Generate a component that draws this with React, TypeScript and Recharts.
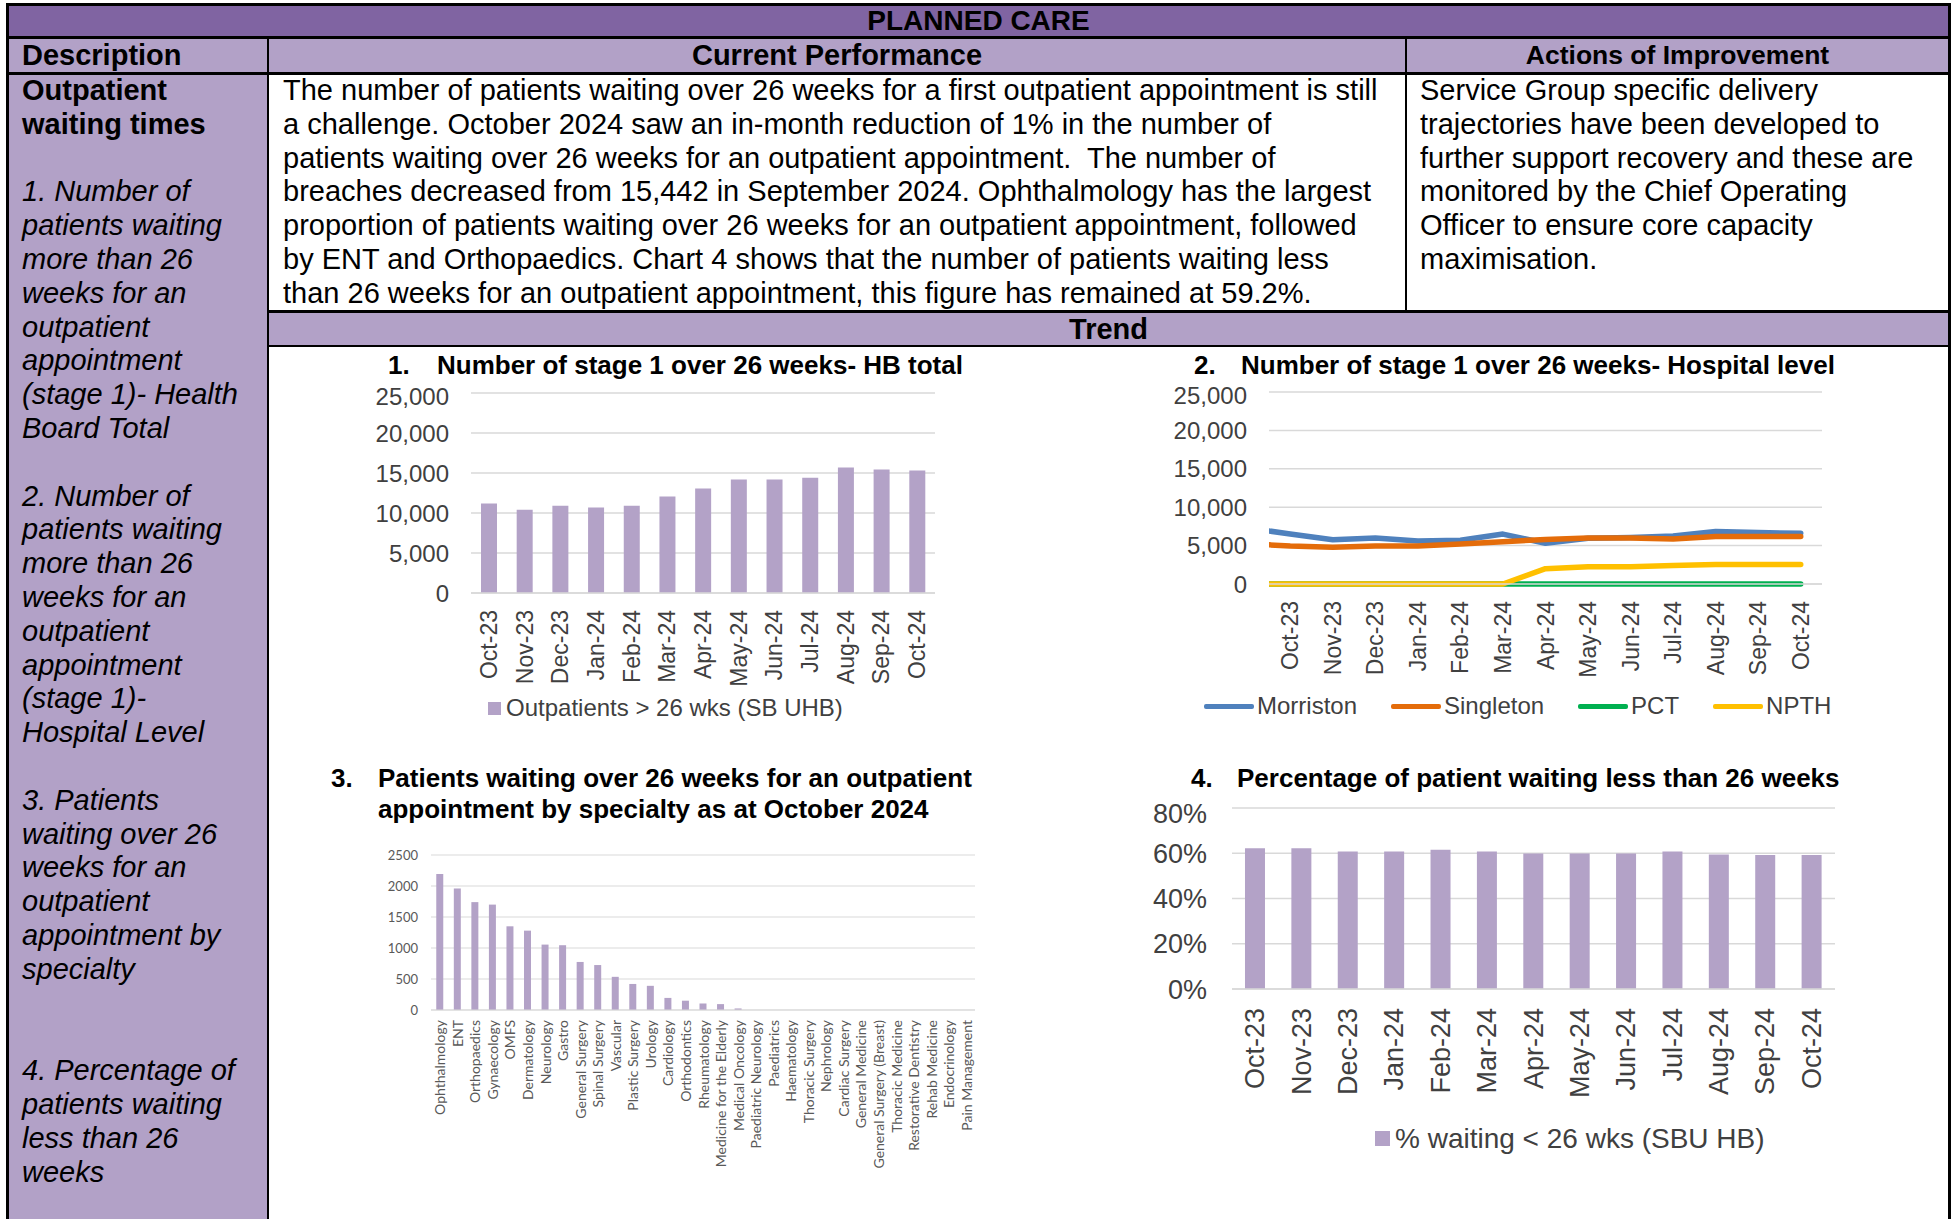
import React from 'react';
import { BarChart, Bar, LineChart, Line, XAxis, YAxis, CartesianGrid } from 'recharts';

const FONT = '"Liberation Sans", Arial, Helvetica, sans-serif';
const FONT_SPEC = 'Lato, "Liberation Sans", sans-serif';

const PURPLE_DARK = '#8064a2';
const PURPLE_LIGHT = '#b2a1c7';
const BAR = '#b3a2c7';
const GRID = '#d9d9d9';
const TICK = '#404040';

// 1. HB total
const MONTHS = ['Oct-23', 'Nov-23', 'Dec-23', 'Jan-24', 'Feb-24', 'Mar-24', 'Apr-24', 'May-24', 'Jun-24', 'Jul-24', 'Aug-24', 'Sep-24', 'Oct-24'];
const HB_TOTAL = [11200, 10400, 10900, 10700, 10900, 12050, 13050, 14200, 14200, 14400, 15700, 15442, 15300];
const HB_LEGEND = 'Outpatients > 26 wks (SB UHB)';
const HB_TICKS = [0, 5000, 10000, 15000, 20000, 25000];

// 2. Hospital level (first value is the month before the visible range, cut off at the left edge)
const HOSP_MONTHS = ['Sep-23', ...MONTHS];
const MORRISTON = [7300, 6500, 5750, 6000, 5600, 5700, 6500, 5300, 5950, 6050, 6250, 6850, 6700, 6600];
const SINGLETON = [5250, 4950, 4800, 4950, 4950, 5200, 5500, 5800, 6000, 6000, 5850, 6200, 6200, 6200];
const PCT = [0, 0, 0, 0, 0, 0, 0, 0, 0, 0, 0, 0, 0, 0];
const NPTH = [0, 0, 0, 0, 0, 0, 0, 2000, 2250, 2250, 2400, 2550, 2550, 2550];
const HOSPITALS = [
  { name: 'Morriston', color: '#4f81bd', values: MORRISTON },
  { name: 'Singleton', color: '#e46c0a', values: SINGLETON },
  { name: 'PCT', color: '#00b050', values: PCT },
  { name: 'NPTH', color: '#ffc000', values: NPTH },
];

// 3. By specialty
const SPECIALTIES = [
  'Ophthalmology', 'ENT', 'Orthopaedics', 'Gynaecology', 'OMFS', 'Dermatology', 'Neurology', 'Gastro',
  'General Surgery', 'Spinal Surgery', 'Vascular', 'Plastic Surgery', 'Urology', 'Cardiology', 'Orthodontics',
  'Rheumatology', 'Medicine for the Elderly', 'Medical Oncology', 'Paediatric Neurology', 'Paediatrics',
  'Haematology', 'Thoracic Surgery', 'Nephrology', 'Cardiac Surgery', 'General Medicine',
  'General Surgery (Breast)', 'Thoracic Medicine', 'Restorative Dentistry', 'Rehab Medicine',
  'Endocrinology', 'Pain Management',
];
const SPECIALTY_WAITS = [2195, 1960, 1740, 1700, 1350, 1280, 1055, 1045, 775, 725, 535, 420, 390, 195, 150, 105, 95, 25, 0, 0, 0, 0, 0, 0, 0, 0, 0, 0, 0, 0, 0];
const SPEC_TICKS = [0, 500, 1000, 1500, 2000, 2500];

// 4. Percentage under 26 weeks
const PCT_UNDER_26 = [62.2, 62.2, 60.8, 60.8, 61.6, 60.8, 59.9, 59.9, 59.9, 60.8, 59.4, 59.2, 59.2];
const PCT_LEGEND = '% waiting < 26 wks (SBU HB)';
const PCT_TICKS = [0, 20, 40, 60, 80];

const hbData = MONTHS.map((m, i) => ({ month: m, value: HB_TOTAL[i] }));
const hospData = HOSP_MONTHS.map((m, i) => {
  const row: any = { idx: i - 1, month: m };
  HOSPITALS.forEach(h => { row[h.name] = h.values[i]; });
  return row;
});
const specData = SPECIALTIES.map((s, i) => ({ name: s, value: SPECIALTY_WAITS[i] }));
const pctData = MONTHS.map((m, i) => ({ month: m, value: PCT_UNDER_26[i] }));

const DESCRIPTION = [
  'Outpatient', 'waiting times', '',
  '1. Number of', 'patients waiting', 'more than 26', 'weeks for an', 'outpatient', 'appointment', '(stage 1)- Health', 'Board Total', '',
  '2. Number of', 'patients waiting', 'more than 26', 'weeks for an', 'outpatient', 'appointment', '(stage 1)-', 'Hospital Level', '',
  '3. Patients', 'waiting over 26', 'weeks for an', 'outpatient', 'appointment by', 'specialty', '', '',
  '4. Percentage of', 'patients waiting', 'less than 26', 'weeks',
];
const PERFORMANCE = [
  'The number of patients waiting over 26 weeks for a first outpatient appointment is still',
  'a challenge. October 2024 saw an in-month reduction of 1% in the number of',
  'patients waiting over 26 weeks for an outpatient appointment.  The number of',
  'breaches decreased from 15,442 in September 2024. Ophthalmology has the largest',
  'proportion of patients waiting over 26 weeks for an outpatient appointment, followed',
  'by ENT and Orthopaedics. Chart 4 shows that the number of patients waiting less',
  'than 26 weeks for an outpatient appointment, this figure has remained at 59.2%.',
];
const ACTIONS = [
  'Service Group specific delivery',
  'trajectories have been developed to',
  'further support recovery and these are',
  'monitored by the Chief Operating',
  'Officer to ensure core capacity',
  'maximisation.',
];

const LINE_H = 33.8;

const Box = ({ l, t, w, h, bg }: { l: number; t: number; w: number; h: number; bg: string }) => (
  <div style={{ position: 'absolute', left: l, top: t, width: w, height: h, background: bg }} />
);

const rotTick = (fontSize: number, gap: number, fill: string, family: string, labels?: string[]) =>
  (props: any) => {
    const { x, y, payload } = props;
    const ty = y + gap;
    const label = labels ? labels[payload.value + 1] : payload.value;
    return (
      <text x={x} y={ty} transform={`rotate(-90 ${x} ${ty})`} textAnchor="end" dominantBaseline="central"
        fontSize={fontSize} fill={fill} fontFamily={family}>{label}</text>
    );
  };

const ChartTitle = ({ num, lines, numX, textX, top }: { num: string; lines: string[]; numX: number; textX: number; top: number }) => (
  <>
    <div style={{ position: 'absolute', left: numX, top, lineHeight: '31px', fontSize: 26, fontWeight: 'bold', whiteSpace: 'nowrap' }}>{num}</div>
    {lines.map((ln, i) => (
      <div key={i} style={{ position: 'absolute', left: textX, top: top + i * 31, lineHeight: '31px', fontSize: 26, fontWeight: 'bold', whiteSpace: 'nowrap' }}>{ln}</div>
    ))}
  </>
);

const fmtThousands = (v: number) => v.toLocaleString('en-US');

export default function App() {
  return (
    <div style={{ position: 'absolute', left: 0, top: 0, width: 1955, height: 1219, background: '#fff', overflow: 'hidden', fontFamily: FONT, color: '#000' }}>
      {/* cell fills */}
      <Box l={9} t={6} w={1939} h={30} bg={PURPLE_DARK} />
      <Box l={9} t={39} w={1939} h={33} bg={PURPLE_LIGHT} />
      <Box l={9} t={74} w={258} h={1145} bg={PURPLE_LIGHT} />
      <Box l={269} t={313} w={1679} h={32} bg={PURPLE_LIGHT} />
      {/* borders */}
      <Box l={6} t={3} w={1945} h={3} bg="#000" />
      <Box l={6} t={3} w={3} h={1216} bg="#000" />
      <Box l={1948} t={3} w={3} h={1216} bg="#000" />
      <Box l={6} t={36} w={1945} h={3} bg="#000" />
      <Box l={6} t={72} w={1945} h={2.5} bg="#000" />
      <Box l={267} t={39} w={2} h={1180} bg="#000" />
      <Box l={1405} t={39} w={2} h={272} bg="#000" />
      <Box l={267} t={310} w={1684} h={3} bg="#000" />
      <Box l={267} t={345} w={1684} h={2} bg="#000" />

      {/* headers */}
      <div style={{ position: 'absolute', left: 6, top: 6, width: 1945, lineHeight: '30px', textAlign: 'center', fontSize: 28, fontWeight: 'bold' }}>PLANNED CARE</div>
      <div style={{ position: 'absolute', left: 22, top: 39, lineHeight: '33px', fontSize: 29, fontWeight: 'bold' }}>Description</div>
      <div style={{ position: 'absolute', left: 269, top: 39, width: 1136, lineHeight: '33px', textAlign: 'center', fontSize: 29, fontWeight: 'bold' }}>Current Performance</div>
      <div style={{ position: 'absolute', left: 1407, top: 39, width: 541, lineHeight: '33px', textAlign: 'center', fontSize: 26.5, fontWeight: 'bold' }}>Actions of Improvement</div>
      <div style={{ position: 'absolute', left: 269, top: 313, width: 1679, lineHeight: '32px', textAlign: 'center', fontSize: 29, fontWeight: 'bold' }}>Trend</div>

      {/* text columns */}
      <div style={{ position: 'absolute', left: 22, top: 74, fontSize: 29, lineHeight: `${LINE_H}px` }}>
        {DESCRIPTION.map((ln, i) => (
          <div key={i} style={{ height: LINE_H, whiteSpace: 'pre', fontWeight: i < 2 ? 'bold' : 'normal', fontStyle: i < 2 ? 'normal' : 'italic' }}>{ln}</div>
        ))}
      </div>
      <div style={{ position: 'absolute', left: 283, top: 74, fontSize: 29, lineHeight: `${LINE_H}px` }}>
        {PERFORMANCE.map((ln, i) => <div key={i} style={{ height: LINE_H, whiteSpace: 'pre' }}>{ln}</div>)}
      </div>
      <div style={{ position: 'absolute', left: 1420, top: 74, fontSize: 29, lineHeight: `${LINE_H}px` }}>
        {ACTIONS.map((ln, i) => <div key={i} style={{ height: LINE_H, whiteSpace: 'pre' }}>{ln}</div>)}
      </div>

      {/* Chart 1 */}
      <ChartTitle num="1." lines={['Number of stage 1 over 26 weeks- HB total']} numX={388} textX={437} top={349.5} />
      <div style={{ position: 'absolute', left: 330, top: 383 }}>
        <BarChart width={630} height={310} data={hbData} margin={{ top: 10, right: 25, left: 0, bottom: 0 }} barCategoryGap="28%">
          <CartesianGrid vertical={false} stroke={GRID} strokeWidth={1.5} />
          <XAxis dataKey="month" interval={0} height={100} tickLine={false} tickSize={0} tickMargin={0}
            axisLine={{ stroke: GRID, strokeWidth: 1.5 }} tick={rotTick(23, 17, TICK, FONT)} />
          <YAxis width={141} domain={[0, 25000]} ticks={HB_TICKS} tickFormatter={fmtThousands} axisLine={false}
            tickLine={false} tickSize={0} tickMargin={22} tick={{ fontSize: 24, fill: TICK, fontFamily: FONT }} />
          <Bar dataKey="value" fill={BAR} isAnimationActive={false} />
        </BarChart>
      </div>
      <div style={{ position: 'absolute', left: 488, top: 693, height: 30, display: 'flex', alignItems: 'center', fontSize: 24, color: TICK, whiteSpace: 'nowrap' }}>
        <span style={{ width: 13, height: 13, background: BAR, marginRight: 5 }} />
        <span>{HB_LEGEND}</span>
      </div>

      {/* Chart 2 */}
      <ChartTitle num="2." lines={['Number of stage 1 over 26 weeks- Hospital level']} numX={1194} textX={1241} top={349.5} />
      <div style={{ position: 'absolute', left: 1160, top: 382 }}>
        <LineChart width={680} height={302} data={hospData} margin={{ top: 10, right: 18, left: 0, bottom: 0 }}>
          <CartesianGrid vertical={false} stroke={GRID} strokeWidth={1.5} />
          <XAxis dataKey="idx" type="number" domain={[-0.5, 12.5]} allowDataOverflow ticks={MONTHS.map((_, i) => i)}
            interval={0} height={100} tickLine={false} tickSize={0} tickMargin={0}
            axisLine={{ stroke: GRID, strokeWidth: 1.5 }} tick={rotTick(23, 17, TICK, FONT, HOSP_MONTHS)} />
          <YAxis width={109} domain={[0, 25000]} ticks={HB_TICKS} tickFormatter={fmtThousands} axisLine={false}
            tickLine={false} tickSize={0} tickMargin={22} tick={{ fontSize: 24, fill: TICK, fontFamily: FONT }} />
          {HOSPITALS.map(h => (
            <Line key={h.name} type="linear" dataKey={h.name} stroke={h.color} strokeWidth={5.5} dot={false}
              strokeLinejoin="round" strokeLinecap="round" isAnimationActive={false} />
          ))}
        </LineChart>
      </div>
      <div style={{ position: 'absolute', left: 1204, top: 691, height: 30, display: 'flex', alignItems: 'center', fontSize: 24, color: TICK, whiteSpace: 'nowrap' }}>
        {HOSPITALS.map((h, i) => (
          <div key={h.name} style={{ display: 'flex', alignItems: 'center', marginLeft: i ? 34 : 0 }}>
            <span style={{ width: 50, height: 5, background: h.color, marginRight: 3, borderRadius: 2 }} />
            <span>{h.name}</span>
          </div>
        ))}
      </div>

      {/* Chart 3 */}
      <ChartTitle num="3." lines={['Patients waiting over 26 weeks for an outpatient', 'appointment by specialty as at October 2024']} numX={331} textX={378} top={762.5} />
      <div style={{ position: 'absolute', left: 330, top: 845 }}>
        <BarChart width={660} height={330} data={specData} margin={{ top: 10, right: 15, left: 0, bottom: 0 }} barCategoryGap="30%">
          <CartesianGrid vertical={false} stroke={GRID} strokeWidth={1} />
          <XAxis dataKey="name" interval={0} height={165} tickLine={false} tickSize={0} tickMargin={0}
            axisLine={{ stroke: GRID, strokeWidth: 1 }} tick={rotTick(14, 10, '#595959', FONT_SPEC)} />
          <YAxis width={101} domain={[0, 2500]} ticks={SPEC_TICKS} axisLine={false} tickLine={false} tickSize={0}
            tickMargin={13} tick={{ fontSize: 13, fill: '#595959', fontFamily: FONT_SPEC }} />
          <Bar dataKey="value" fill={BAR} isAnimationActive={false} />
        </BarChart>
      </div>

      {/* Chart 4 */}
      <ChartTitle num="4." lines={['Percentage of patient waiting less than 26 weeks']} numX={1191} textX={1237} top={762.5} />
      <div style={{ position: 'absolute', left: 1150, top: 798 }}>
        <BarChart width={700} height={311} data={pctData} margin={{ top: 10, right: 15, left: 0, bottom: 0 }} barCategoryGap="28%">
          <CartesianGrid vertical={false} stroke={GRID} strokeWidth={1.5} />
          <XAxis dataKey="month" interval={0} height={120} tickLine={false} tickSize={0} tickMargin={0}
            axisLine={{ stroke: GRID, strokeWidth: 1.5 }} tick={rotTick(27, 19, TICK, FONT)} />
          <YAxis width={82} domain={[0, 80]} ticks={PCT_TICKS} tickFormatter={(v: number) => `${v}%`} axisLine={false}
            tickLine={false} tickSize={0} tickMargin={25} tick={{ fontSize: 27, fill: TICK, fontFamily: FONT }} />
          <Bar dataKey="value" fill={BAR} isAnimationActive={false} />
        </BarChart>
      </div>
      <div style={{ position: 'absolute', left: 1375, top: 1122, height: 33, display: 'flex', alignItems: 'center', fontSize: 28, color: TICK, whiteSpace: 'nowrap' }}>
        <span style={{ width: 15, height: 15, background: BAR, marginRight: 5 }} />
        <span>{PCT_LEGEND}</span>
      </div>
    </div>
  );
}
